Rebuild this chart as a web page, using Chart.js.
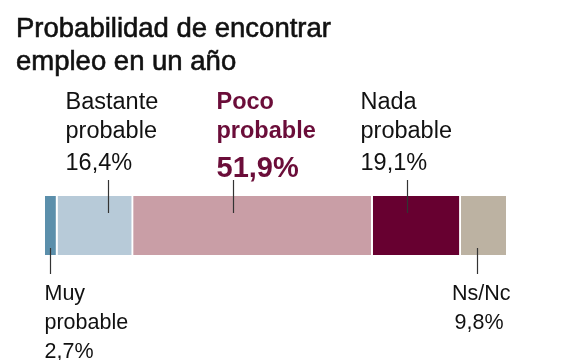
<!DOCTYPE html>
<html>
<head>
<meta charset="utf-8">
<script src="https://cdn.jsdelivr.net/npm/chart.js@4/dist/chart.umd.min.js"></script>
<style>
  html, body { margin: 0; background: #fff; }
  canvas { display: block; }
</style>
</head>
<body>
<canvas id="grafico" width="582" height="360"></canvas>
<script>
// Datos del gráfico
const titulo = ['Probabilidad de encontrar', 'empleo en un año'];
const categorias = [['Muy', 'probable'], ['Bastante', 'probable'], ['Poco', 'probable'], ['Nada', 'probable'], ['Ns/Nc']];
const valores = [2.7, 16.4, 51.9, 19.1, 9.8];
const colores = ['#5b8fab', '#b7cad8', '#c99ea6', '#670030', '#bcb2a2'];

// Colocación de las etiquetas (desplazamientos en px respecto al centro de cada tramo)
const etiquetas = [
  { lado: 'abajo', guia: -1, dx: -6, alinear: 'left' },
  { lado: 'arriba', guia: 13, dx: -43, alinear: 'left' },
  { lado: 'arriba', guia: -20, dx: -17, alinear: 'left', destacado: true },
  { lado: 'arriba', guia: -10, dx: -47, alinear: 'left' },
  { lado: 'abajo', guia: -6, dx: 33, dxPct: 26, alinear: 'right' }
];

const FUENTE = '"Liberation Sans", Arial, Helvetica, sans-serif';
const total = valores.reduce((a, b) => a + b, 0);

function formatoPct(v) {
  return v.toFixed(1).replace('.', ',') + '%';
}

const etiquetasPlugin = {
  id: 'etiquetas',
  afterDraw(chart) {
    const ctx = chart.ctx;
    const area = chart.chartArea;
    ctx.save();

    // Título (trazo fino para imitar el peso medio del original)
    ctx.fillStyle = '#111';
    ctx.strokeStyle = '#111';
    ctx.lineWidth = 0.6;
    ctx.font = '27.5px ' + FUENTE;
    ctx.textAlign = 'left';
    ctx.textBaseline = 'alphabetic';
    titulo.forEach((t, k) => {
      ctx.fillText(t, 16, 37 + k * 33);
      ctx.strokeText(t, 16, 37 + k * 33);
    });

    chart.data.datasets.forEach((ds, i) => {
      const bar = chart.getDatasetMeta(i).data[0];
      const p = bar.getProps(['x', 'base'], true);
      const centro = (p.x + p.base) / 2;
      const cfg = etiquetas[i];
      const gx = Math.round(centro + cfg.guia) + 0.5;

      // Línea guía
      ctx.strokeStyle = '#333';
      ctx.lineWidth = 1.2;
      ctx.beginPath();
      if (cfg.lado === 'arriba') {
        ctx.moveTo(gx, area.top - 16);
        ctx.lineTo(gx, area.top + 17);
      } else {
        ctx.moveTo(gx, area.bottom - 7);
        ctx.lineTo(gx, area.bottom + 19);
      }
      ctx.stroke();

      // Texto
      ctx.textAlign = cfg.alinear;
      const tx = gx + cfg.dx;
      const lineas = categorias[i];
      const pct = formatoPct(ds.data[0]);
      if (cfg.lado === 'arriba') {
        ctx.fillStyle = cfg.destacado ? '#6b0d39' : '#111';
        ctx.font = (cfg.destacado ? 'bold ' : '') + '23.5px ' + FUENTE;
        ctx.fillText(lineas[0], tx, area.top - 87);
        ctx.fillText(lineas[1], tx, area.top - 58);
        if (cfg.destacado) {
          ctx.font = 'bold 29px ' + FUENTE;
          ctx.fillText(pct, tx, area.top - 19);
        } else {
          ctx.fillText(pct, tx, area.top - 26);
        }
      } else {
        ctx.fillStyle = '#111';
        ctx.font = '21.5px ' + FUENTE;
        let y = area.bottom + 45;
        lineas.forEach(l => {
          ctx.fillText(l, tx, y);
          y += 29;
        });
        const px = cfg.dxPct !== undefined ? gx + cfg.dxPct : tx;
        ctx.fillText(pct, px, y);
      }
    });
    ctx.restore();
  }
};

new Chart(document.getElementById('grafico'), {
  type: 'bar',
  data: {
    labels: [''],
    datasets: valores.map((v, i) => ({
      label: categorias[i].join(' '),
      data: [v],
      backgroundColor: colores[i],
      borderColor: '#ffffff',
      borderWidth: i < valores.length - 1 ? { top: 0, bottom: 0, left: 0, right: 2 } : 0,
      borderSkipped: false,
      barPercentage: 1,
      categoryPercentage: 1
    }))
  },
  options: {
    indexAxis: 'y',
    responsive: false,
    animation: false,
    layout: { padding: { left: 45, right: 76, top: 196, bottom: 105 } },
    scales: {
      x: { stacked: true, min: 0, max: total, display: false },
      y: { stacked: true, display: false }
    },
    plugins: {
      legend: { display: false },
      tooltip: { enabled: false },
      title: { display: false }
    }
  },
  plugins: [etiquetasPlugin]
});
</script>
</body>
</html>
